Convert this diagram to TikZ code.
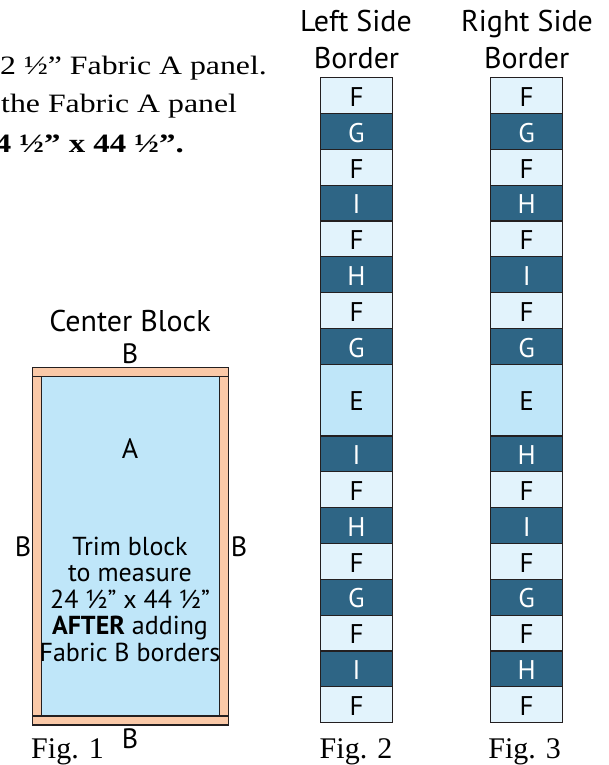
\documentclass[tikz,border=0pt]{standalone}
\usepackage{fontspec}
\setmainfont{Liberation Serif}
\newfontfamily\topserif{Liberation Serif}[FakeStretch=1.2]
\newfontfamily\topserifb{Liberation Serif Bold}[FakeStretch=1.24]
\newfontfamily\mysans{PT Sans}
\definecolor{peach}{HTML}{FAC9A8}
\definecolor{ablue}{HTML}{BFE6F9}
\definecolor{darkcell}{HTML}{2E6585}
\definecolor{lightcell}{HTML}{E2F3FC}
\definecolor{edge}{HTML}{231F20}
\tikzset{
  every node/.style={inner sep=0pt},
  cellbase/.style={draw=edge, line width=1.1pt, minimum height=35.83pt, inner sep=0pt,
    text height=21.5pt, text depth=0pt, font=\mysans\fontsize{27}{29}\selectfont},
  lcell/.style={cellbase, fill=lightcell, text=black},
  dcell/.style={cellbase, fill=darkcell, text=white},
  ecell/.style={cellbase, fill=ablue, text=black, minimum height=71.66pt},
  lab/.style={font=\mysans\fontsize{26}{28}\selectfont},
  letlab/.style={font=\mysans\fontsize{28}{30}\selectfont},
  titlab/.style={font=\mysans\fontsize{30}{32}\selectfont},
  figlab/.style={font=\fontsize{30}{32}\selectfont},
  toptext/.style={font=\topserif\fontsize{26.5}{30}\selectfont},
  topbold/.style={font=\topserifb\fontsize{26.5}{30}\selectfont},
  band/.style={draw=edge, line width=1.1pt, fill=peach},
  panel/.style={draw=edge, line width=1.1pt, fill=ablue},
}
\begin{document}
\begin{tikzpicture}[x=1pt,y=-1pt]
\clip (0,0) rectangle (608,765);
% top instructions (cut off at left)
\node[toptext, anchor=base west] (t1) at (0,75) {2 ½” Fabric A panel.};
\node[toptext, anchor=base west] (t2) at (1,113) {the Fabric A panel};
\node[topbold, anchor=base east] (t3) at (184,152) {4 ½” x 44 ½”.};
% Fig. 1 center block
\path[panel] (41.7,376.7) rectangle (219.3,716);
\path[band] (32.7,367.7) rectangle (228.3,376.7);
\path[band] (32.7,716) rectangle (228.3,725);
\path[band] (32.7,376.7) rectangle (41.7,716);
\path[band] (219.3,376.7) rectangle (228.3,716);
\node[titlab, anchor=base] (cb) at (130,331) {Center Block};
\node[letlab, anchor=base] (btop) at (130,363) {B};
\node[letlab, anchor=base] (a) at (130,458) {A};
\node[letlab, anchor=base] (bleft) at (23,556) {B};
\node[letlab, anchor=base] (bright) at (239,556) {B};
\node[lab, anchor=base] (tr1) at (130,555) {Trim block};
\node[lab, anchor=base] (tr2) at (130,581.7) {to measure};
\node[lab, anchor=base] (tr3) at (130,608.3) {24 ½” x 44 ½”};
\node[lab, anchor=base] (tr4) at (130,634) {\textbf{AFTER} adding};
\node[lab, anchor=base] (tr5) at (130,661) {Fabric B borders};
\node[letlab, anchor=base] (bbot) at (130,748.3) {B};
\node[figlab, anchor=base] (f1) at (67.5,758) {Fig. 1};
% Fig. 2 left side border
\node[titlab, anchor=base] (lt1) at (356,31.7) {Left Side};
\node[titlab, anchor=base] (lt2) at (356.5,68.3) {Border};
\foreach \L/\k/\s in {F/0/lcell, G/1/dcell, F/2/lcell, I/3/dcell, F/4/lcell, H/5/dcell,
  F/6/lcell, G/7/dcell, I/10/dcell, F/11/lcell, H/12/dcell, F/13/lcell, G/14/dcell,
  F/15/lcell, I/16/dcell, F/17/lcell}
  \node[\s, minimum width=71.6pt] (L\k) at (356.5, {77.7+(\k+0.5)*35.83}) {\L};
\node[ecell, minimum width=71.6pt] (L8) at (356.5, {77.7+9*35.83}) {E};
\node[figlab, anchor=base] (f2) at (356,758.5) {Fig. 2};
% Fig. 3 right side border
\node[titlab, anchor=base] (rt1) at (527,31.7) {Right Side};
\node[titlab, anchor=base] (rt2) at (526.7,68.3) {Border};
\foreach \L/\k/\s in {F/0/lcell, G/1/dcell, F/2/lcell, H/3/dcell, F/4/lcell, I/5/dcell,
  F/6/lcell, G/7/dcell, H/10/dcell, F/11/lcell, I/12/dcell, F/13/lcell, G/14/dcell,
  F/15/lcell, H/16/dcell, F/17/lcell}
  \node[\s, minimum width=72pt] (R\k) at (526.7, {77.7+(\k+0.5)*35.83}) {\L};
\node[ecell, minimum width=72pt] (R8) at (526.7, {77.7+9*35.83}) {E};
\node[figlab, anchor=base] (f3) at (524.7,758.5) {Fig. 3};
\end{tikzpicture}
\end{document}
